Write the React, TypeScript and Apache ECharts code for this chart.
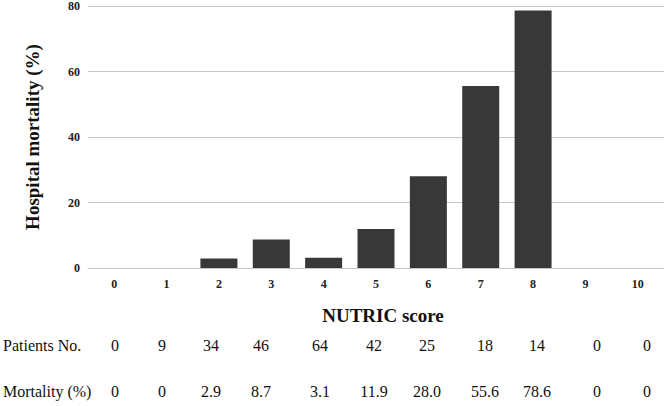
import React, { useEffect, useRef } from "react";
import * as echarts from "echarts";

// NUTRIC score categories
const scores = ["0", "1", "2", "3", "4", "5", "6", "7", "8", "9", "10"];
// Hospital mortality (%) per score
const mortality = [0, 0, 2.9, 8.7, 3.1, 11.9, 28.0, 55.6, 78.6, 0, 0];
// Number of patients per score
const patients = [0, 9, 34, 46, 64, 42, 25, 18, 14, 0, 0];
// Y axis ticks
const yTicks = [0, 20, 40, 60, 80];

const SERIF = "'Liberation Serif', 'DejaVu Serif', serif";

// Horizontal centres of the table columns below the chart
const tableColumnX = [115, 162, 211, 261, 320, 374, 427, 485, 537, 597, 647];

function formatMortality(v: number): string {
  if (v === 0) return "0";
  return v.toFixed(1);
}

export default function App() {
  const ref = useRef<HTMLDivElement>(null);

  useEffect(() => {
    if (!ref.current) return;
    const chart = echarts.init(ref.current, null, { renderer: "svg" });

    const cellStyle = {
      font: `16px ${SERIF}`,
      fill: "#111",
      align: "center",
      verticalAlign: "middle",
    };

    const tableTexts: any[] = [
      {
        type: "text",
        x: 3,
        y: 345,
        style: { ...cellStyle, text: "Patients No.", align: "left" },
      },
      {
        type: "text",
        x: 3,
        y: 391,
        style: { ...cellStyle, text: "Mortality (%)", align: "left" },
      },
    ];
    patients.forEach((p, i) => {
      tableTexts.push({
        type: "text",
        x: tableColumnX[i],
        y: 345,
        style: { ...cellStyle, text: String(p) },
      });
    });
    mortality.forEach((m, i) => {
      tableTexts.push({
        type: "text",
        x: tableColumnX[i],
        y: 391,
        style: { ...cellStyle, text: formatMortality(m) },
      });
    });

    chart.setOption({
      animation: false,
      backgroundColor: "#ffffff",
      textStyle: { fontFamily: SERIF },
      grid: { left: 88, right: 2, top: 6, bottom: 138 },
      xAxis: {
        type: "category",
        data: scores,
        axisLine: { show: true, lineStyle: { color: "#c8c8c8", width: 1 } },
        axisTick: { show: false },
        axisLabel: {
          margin: 10,
          fontFamily: SERIF,
          fontWeight: "bold",
          fontSize: 12,
          color: "#222",
        },
      },
      yAxis: {
        type: "value",
        min: yTicks[0],
        max: yTicks[yTicks.length - 1],
        interval: 20,
        name: "Hospital mortality (%)",
        nameLocation: "middle",
        nameGap: 46,
        nameRotate: 90,
        nameTextStyle: {
          fontFamily: SERIF,
          fontWeight: "bold",
          fontSize: 19,
          color: "#111",
        },
        axisLine: { show: false },
        axisTick: { show: false },
        splitLine: { lineStyle: { color: "#c8c8c8", width: 1 } },
        axisLabel: {
          margin: 8,
          fontFamily: SERIF,
          fontWeight: "bold",
          fontSize: 12,
          color: "#222",
        },
      },
      series: [
        {
          type: "bar",
          data: mortality,
          barWidth: 37,
          itemStyle: { color: "#383838" },
        },
      ],
      graphic: [
        {
          type: "text",
          x: 383,
          y: 315,
          style: {
            text: "NUTRIC score",
            font: `bold 19px ${SERIF}`,
            fill: "#111",
            align: "center",
            verticalAlign: "middle",
          },
        },
        ...tableTexts,
      ],
    });

    return () => chart.dispose();
  }, []);

  return (
    <div
      ref={ref}
      style={{ position: "absolute", left: 0, top: 0, width: 666, height: 406 }}
    />
  );
}
